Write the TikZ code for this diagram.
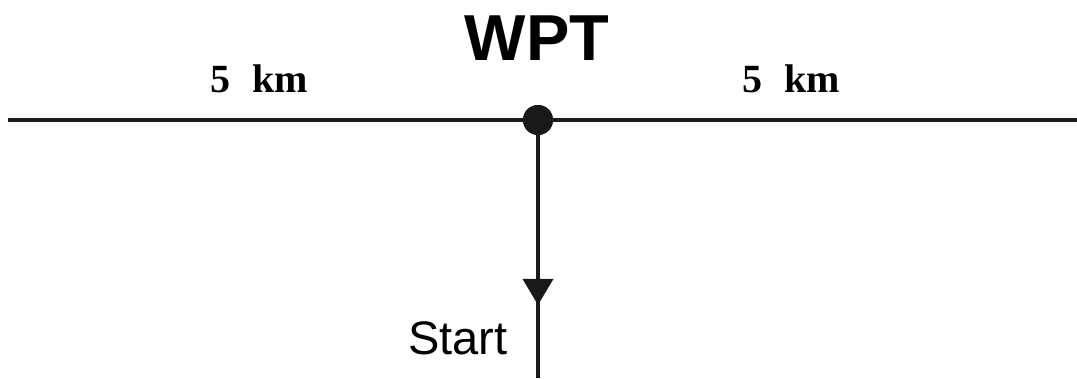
\documentclass[tikz,border=0pt]{standalone}
\usepackage{fontspec}
\setmainfont{Liberation Serif}
\setsansfont{Liberation Sans}
\usetikzlibrary{arrows.meta,decorations.markings}
\begin{document}
\begin{tikzpicture}[x=1pt,y=-1pt,
  track/.style={line width=3.6pt,black!90},
  wpt/.style={circle,fill=black!90,inner sep=0pt,minimum size=30pt},
  dist/.style={font=\fontsize{40}{42}\selectfont\bfseries},
  lbl/.style={font=\sffamily\fontsize{47}{50}\selectfont}]
\useasboundingbox (0,0) rectangle (1077,378);
% main leg through the waypoint
\coordinate (west) at (8,120);
\coordinate (east) at (1077,120);
\node[wpt] (dot) at (538,120) {};
\draw[track] (west) -- (east);
% inbound leg from the start point, direction arrow part way down
\coordinate (south) at (538,378);
\draw[track,postaction={decorate},
  decoration={markings,mark=at position 0.717 with {\arrow{Triangle[width=30pt,length=26pt]}}}]
  (dot.center) -- (south);
\node[wpt] at (dot) {};
% labels
\node[font=\sffamily\bfseries\fontsize{65}{70}\selectfont] (name) at (537,38) {WPT};
\node[dist] (dl) at (259,79) {5\hspace{0.3em} km};
\node[dist] (dr) at (791,79) {5\hspace{0.3em} km};
\node[lbl] (start) at (458,338) {Start};
\end{tikzpicture}
\end{document}
